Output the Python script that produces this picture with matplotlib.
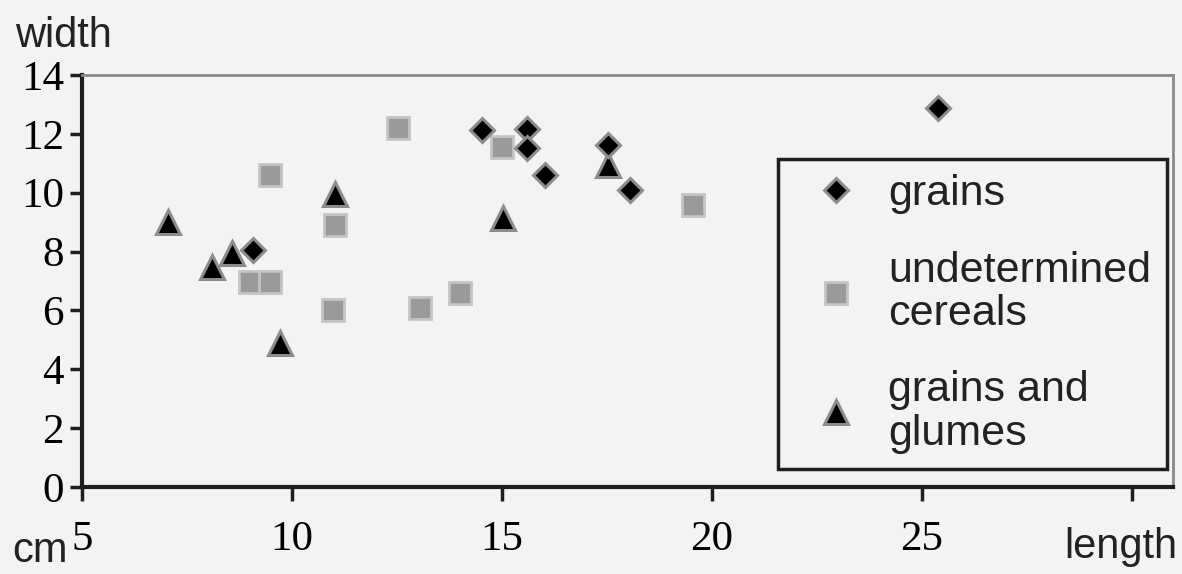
import matplotlib.pyplot as plt

# values (length / width in cm)
grains_x = [9.07, 14.52, 15.6, 15.6, 16.02, 17.52, 18.05, 25.38]
grains_y = [8.05, 12.13, 12.16, 11.52, 10.6, 11.62, 10.09, 12.88]

cereals_x = [12.52, 9.48, 11.02, 9.0, 9.48, 10.98, 13.05, 14.0, 15.0, 19.55]
cereals_y = [12.2, 10.6, 8.9, 6.97, 6.97, 6.01, 6.08, 6.59, 11.55, 9.58]

glumes_x = [7.05, 8.57, 8.10, 11.02, 9.71, 15.02, 17.52]
glumes_y = [9.0, 7.95, 7.48, 9.96, 4.89, 9.14, 10.94]

x_ticks = [5, 10, 15, 20, 25, 30]
x_labels = ["5", "10", "15", "20", "25", ""]
y_ticks = [0, 2, 4, 6, 8, 10, 12, 14]

bg = "#f3f3f3"
fig = plt.figure(figsize=(11.82, 5.74), dpi=100, facecolor=bg)
ax = fig.add_axes([82 / 1182, 87 / 574, 1091 / 1182, 412 / 574], facecolor=bg)

ax.plot(glumes_x, glumes_y, ls="none", marker="^", ms=17, mfc="black",
        mec="#8c8c8c", mew=2.2, label="grains and\nglumes", zorder=3)
ax.plot(cereals_x, cereals_y, ls="none", marker="s", ms=16, mfc="#9a9a9a",
        mec="#c4c4c4", mew=2, label="undetermined\ncereals", zorder=2)
ax.plot(grains_x, grains_y, ls="none", marker="D", ms=12, mfc="black",
        mec="#8c8c8c", mew=2.2, label="grains", zorder=4)

ax.set_xlim(5, 30.98)
ax.set_ylim(0, 14)
ax.set_xticks(x_ticks)
ax.set_xticklabels(x_labels)
ax.set_yticks(y_ticks)

for s in ["left", "bottom"]:
    ax.spines[s].set_linewidth(3)
    ax.spines[s].set_color("#1e1e1e")
for s in ["top", "right"]:
    ax.spines[s].set_linewidth(2)
    ax.spines[s].set_color("#8a8a8a")

ax.tick_params(axis="y", direction="out", length=9, width=2.5, color="#1e1e1e",
               pad=4, labelsize=31, labelfontfamily="Liberation Serif")
ax.tick_params(axis="x", direction="out", length=10, width=2.5, color="#1e1e1e",
               pad=14, labelsize=31, labelfontfamily="Liberation Serif")

sans = "Liberation Sans"
fig.text(15 / 1182, 1 - 47 / 574, "width", fontsize=30, family=sans, color="#222222")
fig.text(12 / 1182, 1 - 562 / 574, "cm", fontsize=30, family=sans, color="#222222")
fig.text(1177 / 1182, 1 - 558 / 574, "length", fontsize=30, family=sans,
         color="#222222", ha="right")

h, l = ax.get_legend_handles_labels()
order = [2, 1, 0]
leg = ax.legend([h[i] for i in order], [l[i] for i in order],
                loc="upper left", bbox_to_anchor=(0.638, 0.034, 0.3565, 0.762),
                mode="expand", borderaxespad=0, frameon=True, fancybox=False,
                framealpha=1, facecolor=bg, edgecolor="#1e1e1e", borderpad=0.35,
                labelspacing=0.85, handletextpad=0.2, handlelength=2,
                prop={"family": sans, "size": 31}, labelcolor="#222222")
leg.get_frame().set_linewidth(2.5)
for t in leg.get_texts():
    t.set_linespacing(1.1)

fig.savefig("out.png", dpi=100, facecolor=bg)
